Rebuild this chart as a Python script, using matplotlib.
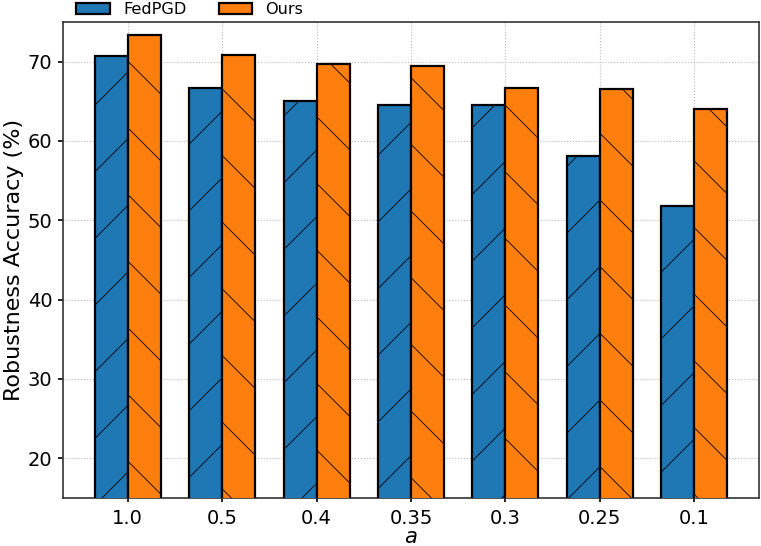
import matplotlib
matplotlib.use("Agg")
import matplotlib.pyplot as plt
import numpy as np

categories = ["1.0", "0.5", "0.4", "0.35", "0.3", "0.25", "0.1"]
fedpgd = [70.7, 66.7, 65.0, 64.6, 64.5, 58.1, 51.8]
ours = [73.4, 70.9, 69.7, 69.4, 66.7, 66.5, 64.0]

plt.rcParams['hatch.linewidth'] = 0.3
fig = plt.figure(figsize=(761/200, 546/200), dpi=200)
ax = fig.add_axes([63/761, 48/546, 696/761, 476/546])

x = np.arange(len(categories))
w = 0.35
ax.bar(x - w/2, fedpgd, w, color='#1f77b4', edgecolor='black', linewidth=0.8,
       hatch='/', label='FedPGD', zorder=3)
ax.bar(x + w/2, ours, w, color='#ff7f0e', edgecolor='black', linewidth=0.8,
       hatch='\\', label='Ours', zorder=3)

ax.set_ylim(15, 75)
ax.set_xticks(x)
ax.set_xticklabels(categories)
ax.set_yticks([20, 30, 40, 50, 60, 70])
ax.tick_params(axis='x', labelsize=7, length=1.6, width=0.6, pad=2.2)
ax.tick_params(axis='y', labelsize=7, length=1.8, width=0.6, pad=2)
for s in ax.spines.values():
    s.set_linewidth(0.6)
    s.set_color('#333333')
ax.set_xlabel('$a$', fontsize=7.6)
ax.xaxis.set_label_coords(0.5, -0.061)
ax.set_ylabel('Robustness Accuracy (%)', fontsize=8, labelpad=1.5)
ax.grid(True, linestyle=':', linewidth=0.4, color='#bbbbbb', zorder=0)
ax.set_axisbelow(True)
ax.legend(loc='lower left', bbox_to_anchor=(0.012, 1.0), ncol=2, frameon=False,
          fontsize=5.8, borderaxespad=0.2, columnspacing=2.0, handlelength=2.1,
          handletextpad=0.8, borderpad=0.1)

fig.savefig('out.png', dpi=200)
